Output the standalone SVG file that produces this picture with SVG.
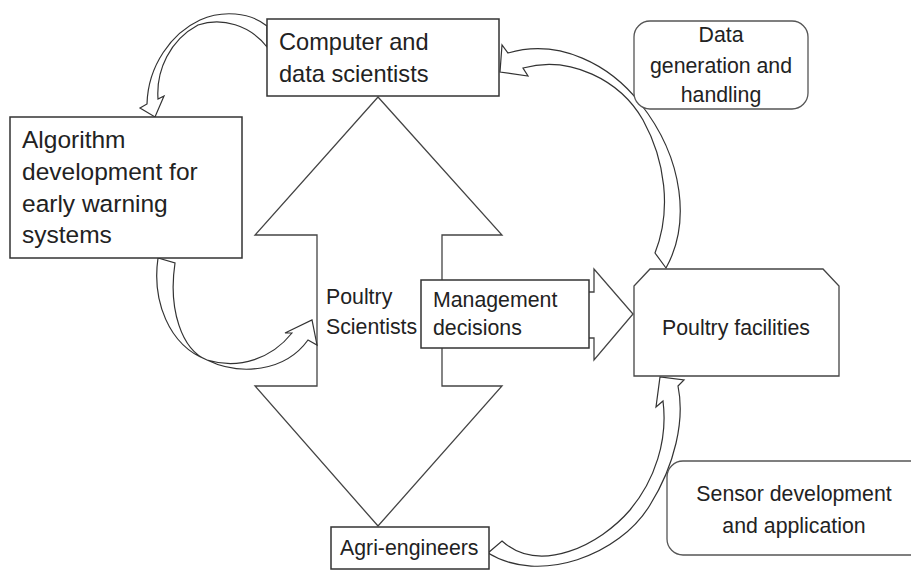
<svg xmlns="http://www.w3.org/2000/svg" width="911" height="571" viewBox="0 0 911 571">
<style>
.bx{fill:#fff;stroke:#333;stroke-width:1.5}
.rb{fill:#fff;stroke:#555;stroke-width:1.3}
.sh{fill:#fff;stroke:#444;stroke-width:1.3;stroke-linejoin:miter}
.cv{fill:#fff;stroke:#333;stroke-width:1.2;stroke-linejoin:miter}
text{font-family:"Liberation Sans",Arial,sans-serif;fill:#222;font-size:21.3px}
.big{font-size:23.6px}
.alg{font-size:24.5px}
.mid{text-anchor:middle}
</style>
<rect width="911" height="571" fill="#fff"/>
<g id="connectors">
<polygon id="double-arrow" class="sh" points="378,97 502,235 442,235 442,386 502,386 378,526 255,386 317,386 317,235 255,235"/>
<polygon id="decision-arrow" class="sh" points="442,292 594,292 594,269 633,314 594,360 594,338 442,338"/>
<path id="curve-computer-to-algorithm" class="cv" d="M267,26 C250,12 222,10 200,20 C172,33 148,65 147,104 L140,108 L155,117 L164,96 L158,99 C156,70 170,40 198,25 C222,17 250,25 267,47 Z"/>
<path id="curve-algorithm-to-scientists" class="cv" d="M158,258 C152,300 168,345 207,360 C240,376 285,372 308,340 L317,345 L312,320 L285,333 L292,333 C272,358 240,370 207,360 C182,350 168,310 175,263 Z"/>
<path id="curve-facilities-to-computer" class="cv" d="M666,268 C690,225 685,160 640,103 C610,65 560,38 508,53 L502,45 L500,72 L528,76 L523,68 C570,55 620,80 643,120 C665,160 672,210 655,253 Z"/>
<path id="curve-engineers-to-facilities" class="cv" d="M488,553 C540,585 620,555 650,505 C675,465 685,420 678,386 L684,380 L660,377 L656,407 L663,401 C668,440 655,480 630,510 C600,545 540,575 502,541 Z"/>
</g>
<g id="computer-scientists">
<rect class="bx" x="267" y="19" width="232" height="77"/>
<text class="big" x="279" y="50">Computer and</text>
<text class="big" x="279" y="82">data scientists</text>
</g>
<g id="algorithm">
<rect class="bx" x="10" y="117" width="232" height="141"/>
<text class="alg" x="22" y="148">Algorithm</text>
<text class="alg" x="22" y="180">development for</text>
<text class="alg" x="22" y="212">early warning</text>
<text class="alg" x="22" y="243">systems</text>
</g>
<g id="poultry-scientists">
<text x="326" y="304">Poultry</text>
<text x="326" y="334">Scientists</text>
</g>
<g id="management">
<rect class="bx" x="421" y="280" width="168" height="68"/>
<text x="433" y="307">Management</text>
<text x="433" y="335">decisions</text>
</g>
<g id="poultry-facilities">
<polygon class="sh" points="650,269 823,269 839,286 839,376 634,376 634,286"/>
<text class="mid" x="736" y="335">Poultry facilities</text>
</g>
<g id="data-generation">
<rect class="rb" x="634" y="21" width="174" height="88" rx="16" ry="16"/>
<text class="mid" x="721" y="42">Data</text>
<text class="mid" x="721" y="73">generation and</text>
<text class="mid" x="721" y="102">handling</text>
</g>
<g id="sensor">
<rect class="rb" x="667" y="461" width="260" height="94" rx="16" ry="16"/>
<text class="mid" x="794" y="501">Sensor development</text>
<text class="mid" x="794" y="533">and application</text>
</g>
<g id="agri-engineers">
<rect class="bx" x="331" y="527" width="158" height="42"/>
<text x="340" y="555">Agri-engineers</text>
</g>
</svg>
